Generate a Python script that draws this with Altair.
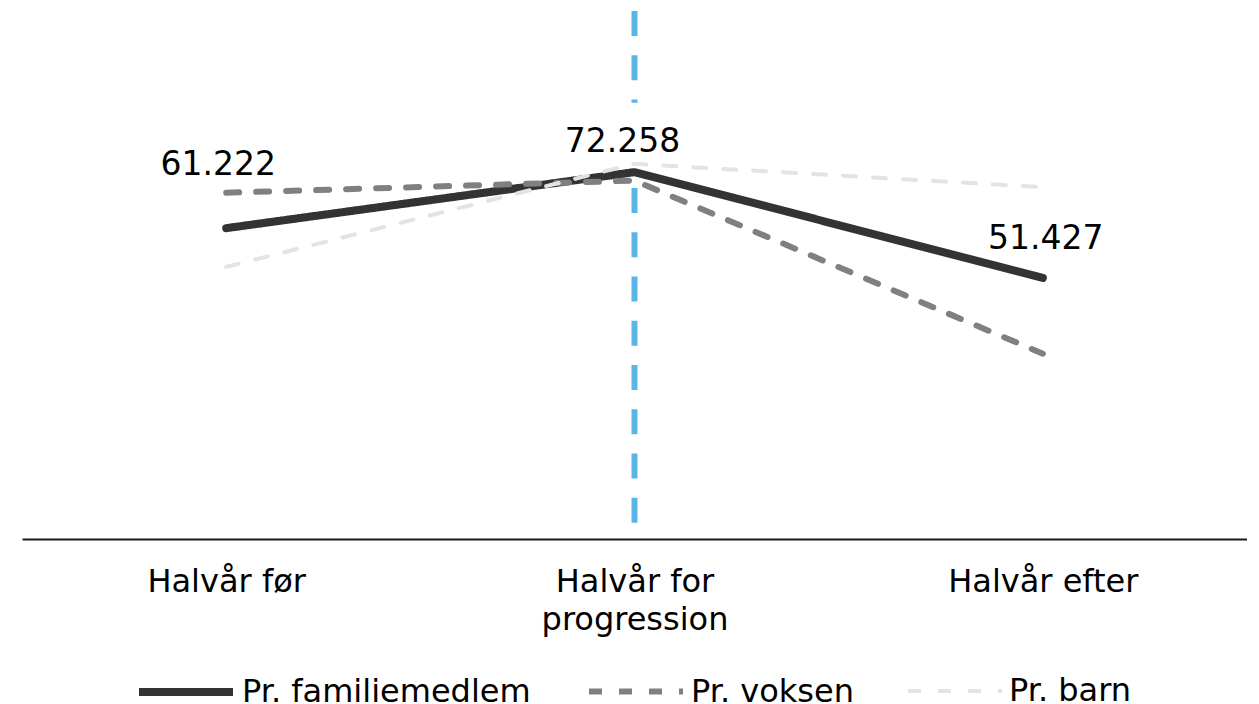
import altair as alt
import pandas as pd

# ---- data ----
categories = ["Halvår før", "Halvår for\nprogression", "Halvår efter"]
series_names = ["Pr. familiemedlem", "Pr. voksen", "Pr. barn"]
familiemedlem = [61.222, 72.258, 51.427]
voksen = [68.2, 70.6, 36.5]
barn = [53.6, 73.9, 69.3]
label_texts = ["61.222", "72.258", "51.427"]
marker_category = categories[1]

# ---- styles ----
series_colors = ["#333333", "#808080", "#e3e3e3"]
series_dashes = [[1, 0], [13, 17], [13, 17]]
series_widths = [8, 4, 4]
label_dx = [-8, -12, 3]
label_dy = [-53, -20, -29]
FONT = "DejaVu Sans"

rows = []
for name, vals in zip(series_names, [familiemedlem, voksen, barn]):
    for i, (c, v) in enumerate(zip(categories, vals)):
        rows.append({"kategori": c, "serie": name, "værdi": v, "orden": i})
df = pd.DataFrame(rows)

lbl_df = pd.DataFrame({"kategori": categories, "værdi": familiemedlem, "tekst": label_texts})
marker_df = pd.DataFrame({"kategori": [marker_category]})

x_enc = alt.X(
    "kategori:N",
    sort=categories,
    scale=alt.Scale(type="point", padding=0.5),
    axis=alt.Axis(
        title=None,
        ticks=False,
        labelAngle=0,
        labelFont=FONT,
        labelFontSize=32,
        labelColor="#000000",
        labelPadding=27,
        labelLineHeight=38,
        labelLimit=600,
        labelExpr="split(datum.label, '\\n')",
        domainColor="#1a1a1a",
        domainWidth=2,
        grid=False,
    ),
)
y_scale = alt.Scale(domain=[0, 104], nice=False, zero=True)

base = alt.Chart(df)

marker = alt.Chart(marker_df).mark_rule(
    color="#5ab6e6", strokeWidth=6, strokeDash=[25, 19.25]
).encode(x=x_enc, y=alt.value(0), y2=alt.value(528))

mask = alt.Chart(lbl_df[lbl_df["kategori"] == marker_category]).mark_rect(
    color="white", width=20, height=67, yOffset=-36
).encode(x=x_enc, y=alt.Y("værdi:Q", scale=y_scale, axis=None))

lines = base.mark_line(strokeCap="round", strokeJoin="round").encode(
    x=x_enc,
    y=alt.Y("værdi:Q", scale=y_scale, axis=None),
    color=alt.Color("serie:N", scale=alt.Scale(domain=series_names, range=series_colors), title=None),
    strokeDash=alt.StrokeDash("serie:N", scale=alt.Scale(domain=series_names, range=series_dashes), title=None),
    strokeWidth=alt.StrokeWidth("serie:N", scale=alt.Scale(domain=series_names, range=series_widths), title=None),
    order=alt.Order("orden:Q"),
)

texts = []
for i in range(len(categories)):
    texts.append(
        alt.Chart(lbl_df.iloc[[i]]).mark_text(
            font=FONT, fontSize=33, color="#000000", baseline="alphabetic",
            align="center", dx=label_dx[i], dy=label_dy[i]
        ).encode(x=x_enc, y=alt.Y("værdi:Q", scale=y_scale, axis=None), text="tekst:N")
    )

chart = alt.layer(marker, mask, lines, *texts).properties(
    width=1225, height=528,
    padding={"left": 14, "top": 0, "right": 0, "bottom": 0},
).configure_view(stroke=None).configure_legend(
    orient="none",
    legendX=113,
    legendY=630,
    direction="horizontal",
    symbolType="stroke",
    symbolSize=8836,
    labelFont=FONT,
    labelFontSize=32,
    labelColor="#000000",
    labelOffset=5,
    labelLimit=600,
    columnPadding=46,
    padding=0,
    titlePadding=0,
)

chart.save("out.html", embed_options={"renderer": "svg", "actions": False})
